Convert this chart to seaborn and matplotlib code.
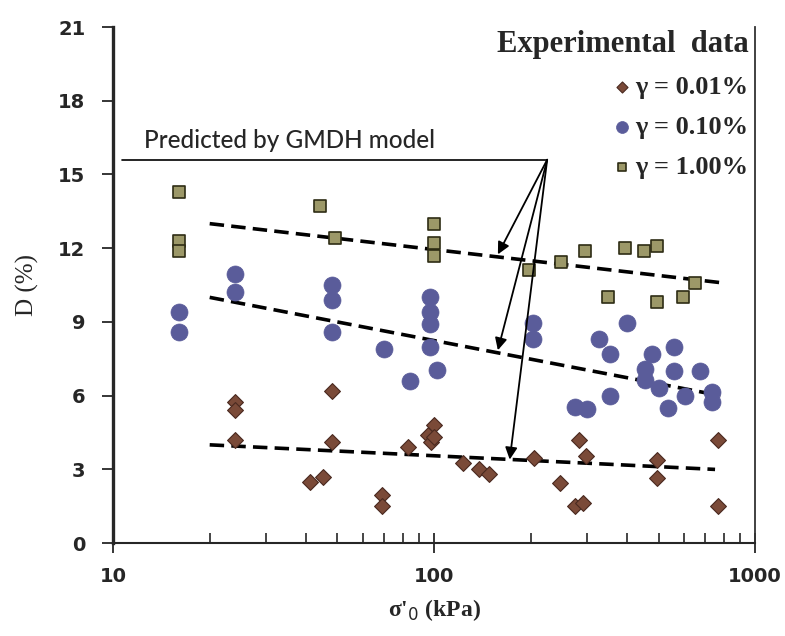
import numpy as np
import pandas as pd
import seaborn as sns
import matplotlib.pyplot as plt
from matplotlib.ticker import NullFormatter, LogLocator

# Experimental data, gamma = 1.00 %
sq_x = [16, 16, 16, 44, 49, 100, 100, 100, 198, 248, 295, 347, 394, 449, 494, 494, 598, 650]
sq_y = [14.3, 12.3, 11.9, 13.7, 12.4, 13.0, 12.2, 11.7, 11.1, 11.45, 11.9, 10.0, 12.0, 11.9, 12.1, 9.8, 10.0, 10.6]

# gamma = 0.10 %
ci_x = [16, 16, 24, 24, 48, 48, 48, 70, 84, 97, 97, 97, 97, 102, 203, 203, 275, 299, 327,
        353, 353, 398, 454, 454, 476, 500, 537, 557, 557, 605, 674, 733, 733]
ci_y = [9.4, 8.6, 10.95, 10.2, 10.5, 9.9, 8.6, 7.9, 6.6, 10.0, 9.4, 8.9, 8.0, 7.05, 8.95, 8.3, 5.55, 5.45, 8.3,
        7.7, 6.0, 8.95, 7.1, 6.65, 7.7, 6.3, 5.5, 8.0, 7.0, 6.0, 7.0, 6.15, 5.75]

# gamma = 0.01 %
di_x = [24, 24, 24, 41, 45, 48, 48, 69, 69, 83, 96, 100, 98, 100, 123, 138, 148, 204, 247,
        275, 290, 282, 297, 495, 495, 766, 766]
di_y = [5.75, 5.4, 4.2, 2.5, 2.7, 6.2, 4.1, 1.95, 1.5, 3.9, 4.4, 4.8, 4.1, 4.3, 3.25, 3.0, 2.8, 3.45, 2.45,
        1.5, 1.65, 4.2, 3.55, 3.4, 2.65, 4.2, 1.5]

# GMDH model lines
top_x, top_y = [20, 780], [13.0, 10.6]
mid_x, mid_y = [20, 780], [10.0, 6.0]
bot_x, bot_y = [20, 750], [4.0, 3.0]

# annotation: label line and arrow tips
note_line_x, note_y = [10.7, 225], 15.6
tips = [(158, 11.75), (158, 7.85), (172, 3.4)]

sns.set_style('ticks')
plt.rcParams['font.family'] = ['DejaVu Sans']

fig = plt.figure(figsize=(7.85, 6.36), dpi=100)
ax = fig.add_axes([0.144, 0.146, 0.818, 0.8115])

df_sq = pd.DataFrame({'s': sq_x, 'D': sq_y})
df_ci = pd.DataFrame({'s': ci_x, 'D': ci_y})
df_di = pd.DataFrame({'s': di_x, 'D': di_y})

for lx, ly in [(top_x, top_y), (mid_x, mid_y), (bot_x, bot_y)]:
    sns.lineplot(x=lx, y=ly, ax=ax, color='black', lw=2.6, linestyle=(0, (4, 2)), zorder=3)

sns.scatterplot(data=df_di, x='s', y='D', ax=ax, marker='D', s=65, color='#7a4a38',
                edgecolor='#4a2a20', linewidth=0.8, label='γ = 0.01%', zorder=4)
sns.scatterplot(data=df_ci, x='s', y='D', ax=ax, marker='o', s=150, color='#5a5c9a',
                edgecolor='#5a5c9a', linewidth=0.5, label='γ = 0.10%', zorder=4)
sns.scatterplot(data=df_sq, x='s', y='D', ax=ax, marker='s', s=75, color='#9c9868',
                edgecolor='#2e2c14', linewidth=1.2, label='γ = 1.00%', zorder=4)

# predicted by GMDH annotation
ax.plot(note_line_x, [note_y, note_y], color='black', lw=1.2)
ax.text(12.5, 15.9, 'Predicted by GMDH model', fontsize=17.5, family='Lato',
        fontweight='medium', ha='left', va='bottom')
for tx, ty in tips:
    ax.annotate('', xy=(tx, ty), xytext=(note_line_x[1], note_y),
                arrowprops=dict(arrowstyle='-|>', color='black', lw=1.3,
                                mutation_scale=18, shrinkA=0, shrinkB=0), zorder=5)

ax.set_xscale('log')
ax.set_xlim(10, 1000)
ax.set_ylim(0, 21)
ax.set_yticks(np.arange(0, 22, 3))
ax.set_xticks([10, 100, 1000])
ax.set_xticklabels(['10', '100', '1000'])
ax.xaxis.set_minor_locator(LogLocator(base=10, subs=np.arange(2, 10)))
ax.xaxis.set_minor_formatter(NullFormatter())

for lab in ax.get_xticklabels() + ax.get_yticklabels():
    lab.set_fontweight('bold')
    lab.set_fontsize(14)
ax.tick_params(axis='y', which='major', direction='out', length=8, width=1.3, pad=12)
ax.tick_params(axis='x', which='major', direction='inout', length=14, width=1.3, pad=10)
ax.tick_params(axis='x', which='minor', direction='in', length=7, width=1.2)

ax.spines['top'].set_visible(False)
ax.spines['left'].set_linewidth(2.4)
ax.spines['bottom'].set_linewidth(1.5)
ax.spines['right'].set_linewidth(1.3)
ax.spines['right'].set_color('#333333')

ax.set_xlabel("σ'$_0$ (kPa)", family='Liberation Serif', fontweight='bold', fontsize=17, labelpad=8)
ax.set_ylabel('D (%)', family='Liberation Serif', fontsize=18, labelpad=14)

leg = ax.legend(title='Experimental  data', loc='upper right', bbox_to_anchor=(1.018, 1.03),
                frameon=False, markerscale=0.7, handletextpad=0.1, handlelength=0.8,
                labelspacing=0.62, borderaxespad=0.3, alignment='right',
                prop={'family': 'Liberation Serif', 'weight': 'bold', 'size': 19})
leg.get_title().set_fontproperties({'family': 'Liberation Serif', 'weight': 'bold', 'size': 22})

fig.savefig('out.png', dpi=100)
